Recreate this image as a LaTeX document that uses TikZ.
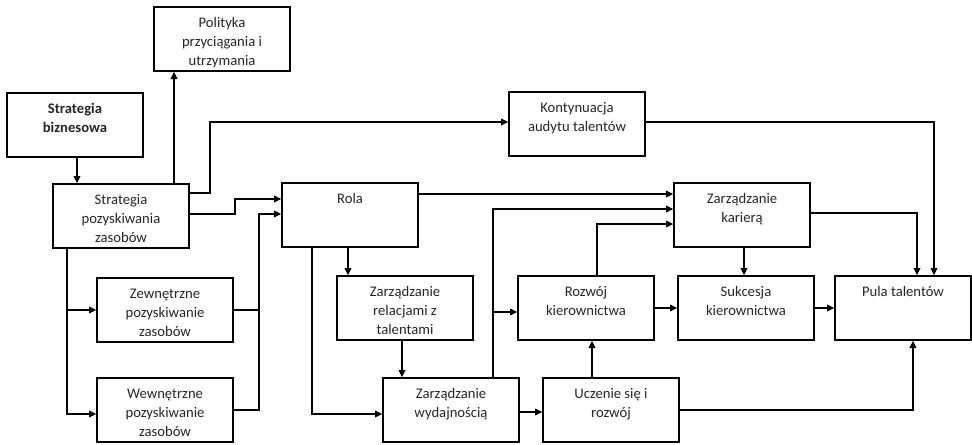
\documentclass[tikz,border=0pt]{standalone}
\usepackage{fontspec}
\setmainfont{Carlito}
\usetikzlibrary{arrows.meta}
\newcommand{\boxtxt}[1]{\parbox[c][48pt][t]{102pt}{\centering\rule{0pt}{15.5pt}#1\par}}
\tikzset{
  box/.style={draw, line width=1pt, inner sep=0pt, text=black!85, font=\fontsize{11}{14.25}\selectfont},
  conn/.style={line width=1pt},
  arr/.style={line width=1pt, -{Triangle[length=5.5pt,width=5pt]}}
}
\begin{document}
\begin{tikzpicture}[x=0.75pt,y=-0.75pt]
\useasboundingbox (0,0) rectangle (972,444);
\node[box] (pol)  at (222,39)  {\boxtxt{Polityka\\przyciągania i\\utrzymania}};
\node[box] (sbiz) at (75,125)  {\boxtxt{\textbf{Strategia}\\\textbf{biznesowa}}};
\node[box] (spoz) at (121,216) {\boxtxt{Strategia\\pozyskiwania\\zasobów}};
\node[box] (zew)  at (165,310) {\boxtxt{Zewnętrzne\\pozyskiwanie\\zasobów}};
\node[box] (wew)  at (165,410) {\boxtxt{Wewnętrzne\\pozyskiwanie\\zasobów}};
\node[box] (rola) at (350,215) {\boxtxt{Rola}};
\node[box] (kont) at (577,124) {\boxtxt{Kontynuacja\\audytu talentów}};
\node[box] (rel)  at (405,308) {\boxtxt{Zarządzanie\\relacjami z\\talentami}};
\node[box] (wyd)  at (451,410) {\boxtxt{Zarządzanie\\wydajnością}};
\node[box] (roz)  at (586,308) {\boxtxt{Rozwój\\kierownictwa}};
\node[box] (ucz)  at (611,410) {\boxtxt{Uczenie się i\\rozwój}};
\node[box] (kar)  at (742,215) {\boxtxt{Zarządzanie\\karierą}};
\node[box] (suk)  at (746,308) {\boxtxt{Sukcesja\\kierownictwa}};
\node[box] (pula) at (903,308) {\boxtxt{Pula talentów}};

\draw[arr] (sbiz.south -| 77,0) -- (spoz.north -| 77,0);
\draw[arr] (spoz.north -| 174,0) -- (pol.south -| 174,0);
\draw[arr] (spoz.east |- 0,193) -- (210,193) -- (210,122) -- (kont.west |- 0,122);
\draw[arr] (spoz.east |- 0,214) -- (235,214) -- (235,199) -- (rola.west |- 0,199);
\draw[arr] (wew.east) -- (259,410) -- (259,214) -- (rola.west |- 0,214);
\draw[conn] (zew.east) -- (259,310);
\draw[arr] (spoz.south -| 67,0) |- (wew.west |- 0,414);
\draw[arr] (67,310) -- (zew.west);
\draw[arr] (rola.south -| 312,0) |- (wyd.west |- 0,414);
\draw[arr] (rola.south -| 348,0) -- (rel.north -| 348,0);
\draw[arr] (rel.south -| 402,0) -- (wyd.north -| 402,0);
\draw[arr] (wyd.east |- 0,412) -- (ucz.west |- 0,412);
\draw[arr] (wyd.north -| 493,0) |- (kar.west |- 0,209);
\draw[arr] (493,312) -- (roz.west |- 0,312);
\draw[arr] (rola.east |- 0,194) -- (kar.west |- 0,194);
\draw[arr] (roz.north -| 597,0) |- (kar.west |- 0,224);
\draw[arr] (ucz.north -| 592,0) -- (roz.south -| 592,0);
\draw[arr] (roz.east |- 0,308) -- (suk.west |- 0,308);
\draw[arr] (kar.south -| 744,0) -- (suk.north -| 744,0);
\draw[arr] (suk.east |- 0,308) -- (pula.west |- 0,308);
\draw[arr] (kar.east |- 0,213) -| (pula.north -| 917,0);
\draw[arr] (kont.east |- 0,122) -| (pula.north -| 934,0);
\draw[arr] (ucz.east |- 0,410) -| (pula.south -| 913,0);
\end{tikzpicture}
\end{document}
